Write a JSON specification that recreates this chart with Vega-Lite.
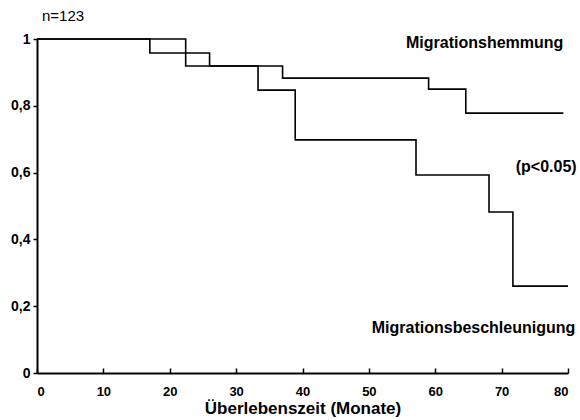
{
  "$schema": "https://vega.github.io/schema/vega-lite/v6.json",
  "width": 531,
  "height": 334,
  "autosize": "none",
  "padding": {"left": 37, "top": 39, "right": 12, "bottom": 47},
  "background": "white",
  "title": {"text": "n=123", "anchor": "start", "frame": "group", "offset": 8, "dx": 5, "fontSize": 15, "fontWeight": "normal", "font": "Liberation Sans", "color": "black"},
  "config": {
    "view": {"stroke": null},
    "axis": {"grid": false, "domainColor": "black", "domainWidth": 2, "tickColor": "black", "tickWidth": 1.5, "labelColor": "black", "labelFont": "Liberation Sans", "labelFontWeight": "bold", "labelFontSize": 14, "titleFont": "Liberation Sans", "titleColor": "black"}
  },
  "datasets": {
    "curves": [
      {"time": 0, "surv": 1, "group": "Migrationshemmung"},
      {"time": 17, "surv": 0.958, "group": "Migrationshemmung"},
      {"time": 26, "surv": 0.919, "group": "Migrationshemmung"},
      {"time": 37, "surv": 0.883, "group": "Migrationshemmung"},
      {"time": 59, "surv": 0.85, "group": "Migrationshemmung"},
      {"time": 64.6, "surv": 0.778, "group": "Migrationshemmung"},
      {"time": 79.3, "surv": 0.778, "group": "Migrationshemmung"},
      {"time": 0, "surv": 1, "group": "Migrationsbeschleunigung"},
      {"time": 22.4, "surv": 0.919, "group": "Migrationsbeschleunigung"},
      {"time": 33.3, "surv": 0.847, "group": "Migrationsbeschleunigung"},
      {"time": 38.9, "surv": 0.698, "group": "Migrationsbeschleunigung"},
      {"time": 57.1, "surv": 0.593, "group": "Migrationsbeschleunigung"},
      {"time": 68.1, "surv": 0.482, "group": "Migrationsbeschleunigung"},
      {"time": 71.7, "surv": 0.26, "group": "Migrationsbeschleunigung"},
      {"time": 80, "surv": 0.26, "group": "Migrationsbeschleunigung"}
    ],
    "labels": [
      {"time": 79.3, "surv": 0.988, "label": "Migrationshemmung"},
      {"time": 81.3, "surv": 0.617, "label": "(p<0.05)"},
      {"time": 81.1, "surv": 0.135, "label": "Migrationsbeschleunigung"}
    ]
  },
  "layer": [
    {
      "data": {"name": "curves"},
      "mark": {"type": "line", "interpolate": "step-after", "color": "black", "strokeWidth": 1.6, "clip": false},
      "encoding": {
        "x": {"field": "time", "type": "quantitative", "scale": {"domain": [0, 80], "nice": false},
          "axis": {"values": [0, 10, 20, 30, 40, 50, 60, 70, 80], "tickSize": -5, "labelPadding": 17, "labelFontSize": 13, "title": "Überlebenszeit (Monate)", "titleFontSize": 17, "titleFontWeight": "bold", "titlePadding": 2}},
        "y": {"field": "surv", "type": "quantitative", "scale": {"domain": [0, 1], "nice": false},
          "axis": {"values": [0, 0.2, 0.4, 0.6, 0.8, 1], "tickSize": 4, "labelPadding": 3, "title": null,
            "labelExpr": "datum.value == 0 ? '0' : datum.value == 1 ? '1' : replace(format(datum.value, '.1f'), '.', ',')"}},
        "detail": {"field": "group"}
      }
    },
    {
      "data": {"name": "labels"},
      "mark": {"type": "text", "align": "right", "baseline": "middle", "font": "Liberation Sans", "fontWeight": "bold", "fontSize": 16, "color": "black", "clip": false},
      "encoding": {
        "x": {"field": "time", "type": "quantitative"},
        "y": {"field": "surv", "type": "quantitative"},
        "text": {"field": "label"}
      }
    }
  ]
}
